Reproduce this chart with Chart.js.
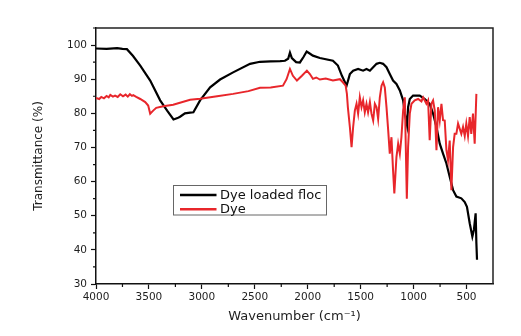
<!DOCTYPE html>
<html>
<head>
<meta charset="utf-8">
<title>FTIR spectra</title>
<script src="https://cdn.jsdelivr.net/npm/chart.js@4.4.0/dist/chart.umd.min.js"></script>
<style>
  html, body { margin: 0; padding: 0; background: #fff; }
</style>
</head>
<body>
<canvas id="ftirChart" width="521" height="336"></canvas>
<script>
// FTIR spectra: dye vs dye loaded floc

const flocLabel = 'Dye loaded floc';
const dyeLabel = 'Dye';

const flocWave = [4000, 3900, 3800, 3750, 3708, 3650, 3582, 3488, 3394, 3328, 3268, 3230, 3206, 3160, 3111, 3080,
  3017, 2922, 2828, 2705, 2545, 2451, 2350, 2260, 2215, 2185, 2168, 2150, 2110, 2074, 2040, 2010, 1985, 1951,
  1885, 1762, 1715, 1677, 1633, 1602, 1571, 1524, 1477, 1445, 1413, 1382, 1350, 1319, 1288, 1256, 1225, 1194,
  1162, 1130, 1099, 1083, 1062, 1052, 1036, 1005, 942, 894, 848, 816, 784, 753, 722, 690, 659, 627, 596, 549,
  517, 496, 470, 445, 430, 414, 407, 401];
const flocT = [99.0, 98.9, 99.1, 98.9, 98.8, 96.8, 94.0, 89.6, 83.8, 80.8, 78.2, 78.6, 79.0, 80.0, 80.2, 80.3,
  83.8, 87.6, 89.9, 92.0, 94.5, 95.1, 95.2, 95.3, 95.4, 96.0, 97.8, 96.2, 95.0, 94.9, 96.5, 98.1, 97.6, 96.9,
  96.2, 95.4, 94.0, 91.0, 88.1, 91.5, 92.5, 93.0, 92.5, 93.0, 92.5, 93.5, 94.5, 94.8, 94.5, 93.5, 91.5, 89.6,
  88.6, 86.7, 83.8, 80.0, 76.5, 81.8, 84.2, 85.2, 85.2, 84.2, 82.8, 79.9, 76.0, 71.1, 68.2, 65.3, 61.4, 57.5, 55.6, 55.1,
  54.0, 52.6, 47.8, 43.9, 45.9, 50.7, 42.0, 37.1];

const dyeWave = [4000, 3970, 3950, 3925, 3900, 3880, 3865, 3840, 3820, 3795, 3771, 3745, 3720, 3700, 3680, 3660,
  3648, 3620, 3582, 3535, 3507, 3488, 3460, 3431, 3365,
  3271, 3111, 3017, 2856, 2705, 2560, 2451, 2350, 2234, 2200, 2168, 2140, 2102, 2055, 2008, 1980, 1951, 1920, 1885,
  1830, 1762, 1696, 1668, 1642, 1630, 1621, 1602, 1586, 1571, 1555, 1539, 1524, 1508, 1492, 1477, 1461, 1445, 1430,
  1413, 1398, 1382, 1366, 1350, 1335, 1319, 1303, 1288, 1272, 1256, 1240, 1225, 1209, 1194, 1182, 1162, 1146,
  1130, 1115, 1099, 1083, 1064, 1052, 1036, 1020, 989, 957, 926, 910, 879, 863, 848, 832, 816, 800, 784, 769,
  753, 737, 722, 706, 690, 675, 659, 643, 627, 612, 596, 580, 549, 533, 517, 502, 486, 470, 455, 439, 423, 407];
const dyeT = [84.5, 84.2, 84.8, 84.4, 85.1, 84.7, 85.4, 84.9, 85.2, 84.8, 85.6, 85.0, 85.5, 84.9, 85.6, 85.1,
  85.3, 84.8, 84.2, 83.3, 82.3, 79.9, 80.8, 81.6, 82.1,
  82.5, 84.0, 84.3, 85.0, 85.7, 86.5, 87.5, 87.6, 88.1, 90.0, 93.0, 91.0, 89.6, 91.0, 92.5, 91.5, 90.1, 90.5, 89.9,
  90.2, 89.6, 90.0, 89.1, 88.1, 85.7, 81.8, 76.0, 70.1, 76.0, 80.8, 82.8, 79.9, 84.7, 81.8, 83.8, 80.3, 82.8, 80.3,
  83.3, 79.9, 77.9, 82.8, 81.8, 78.4, 84.7, 88.1, 89.1, 87.6, 81.8, 75.0, 68.2, 73.0, 63.3, 56.5, 67.2, 71.1,
  68.2, 73.0, 80.8, 84.7, 55.0, 70.1, 79.9, 82.8, 83.8, 84.2, 83.5, 84.7, 82.8, 83.8, 72.1, 82.8, 83.8, 80.8, 69.2, 81.8,
  77.9, 82.8, 78.0, 77.9, 69.2, 66.3, 72.0, 57.5, 70.1, 74.0, 74.0, 77.0, 74.0, 76.0, 73.4, 77.0, 73.4, 78.9, 74.0, 79.9, 71.1, 85.7];

const xTicks = [4000, 3500, 3000, 2500, 2000, 1500, 1000, 500];
const yTicks = [30, 40, 50, 60, 70, 80, 90, 100];

const tickFont = { family: 'DejaVu Sans', size: 10.5 };
const inkColor = '#1e1e1e';

function toPoints(xs, ys) {
  return xs.map((x, i) => ({ x: x, y: ys[i] }));
}

// minor ticks halfway between the labelled ones, plus the top/right frame
const framePlugin = {
  id: 'frame',
  afterDraw(chart) {
    const { ctx, chartArea, scales } = chart;
    ctx.save();
    ctx.strokeStyle = '#222';
    ctx.lineWidth = 1.5;
    ctx.beginPath();
    ctx.moveTo(chartArea.left, chartArea.top);
    ctx.lineTo(chartArea.right, chartArea.top);
    ctx.lineTo(chartArea.right, chartArea.bottom);
    ctx.stroke();

    ctx.lineWidth = 1.2;
    ctx.strokeStyle = '#111';
    ctx.beginPath();
    xTicks.forEach(v => {
      const m = v - 250;
      if (m <= 250) return;
      const px = scales.x.getPixelForValue(m);
      ctx.moveTo(px, chartArea.bottom);
      ctx.lineTo(px, chartArea.bottom + 3);
    });
    yTicks.forEach(v => {
      const py = scales.y.getPixelForValue(v + 5);
      ctx.moveTo(chartArea.left, py);
      ctx.lineTo(chartArea.left - 3, py);
    });
    ctx.stroke();
    ctx.restore();
  }
};

// boxed legend inside the plot, like the original figure
const boxLegend = {
  id: 'boxLegend',
  afterDraw(chart) {
    const ctx = chart.ctx;
    const boxX = 173.5, boxY = 185.5, boxW = 153, boxH = 29.5;
    ctx.save();
    ctx.fillStyle = '#fff';
    ctx.fillRect(boxX, boxY, boxW, boxH);
    ctx.strokeStyle = '#666';
    ctx.lineWidth = 1;
    ctx.strokeRect(boxX, boxY, boxW, boxH);
    ctx.font = '13px "DejaVu Sans"';
    ctx.textBaseline = 'middle';
    chart.data.datasets.forEach((ds, i) => {
      const y = boxY + 9.5 + i * 14.3;
      ctx.strokeStyle = ds.borderColor;
      ctx.lineWidth = 2.5;
      ctx.beginPath();
      ctx.moveTo(180, y);
      ctx.lineTo(216.5, y);
      ctx.stroke();
      ctx.fillStyle = '#111';
      ctx.fillText(ds.label, 220, y + 0.5);
    });
    ctx.restore();
  }
};

new Chart(document.getElementById('ftirChart'), {
  type: 'line',
  data: {
    datasets: [{
      label: flocLabel,
      data: toPoints(flocWave, flocT),
      borderColor: '#000000',
      borderWidth: 2.2,
      pointRadius: 0,
      tension: 0,
      order: 1
    }, {
      label: dyeLabel,
      data: toPoints(dyeWave, dyeT),
      borderColor: '#e8262b',
      borderWidth: 2,
      pointRadius: 0,
      tension: 0,
      order: 0
    }]
  },
  options: {
    responsive: false,
    animation: false,
    layout: { padding: { left: 0, right: 28, top: 28, bottom: 0 } },
    plugins: {
      legend: { display: false },
      tooltip: { enabled: false }
    },
    scales: {
      x: {
        type: 'linear',
        reverse: true,
        min: 250,
        max: 4000,
        afterBuildTicks: s => { s.ticks = xTicks.map(v => ({ value: v })); },
        afterFit: s => { s.height = 52; },
        ticks: {
          font: tickFont,
          color: inkColor,
          padding: 2,
          maxRotation: 0,
          autoSkip: false,
          callback: v => String(v)
        },
        grid: { drawOnChartArea: false, drawTicks: true, tickLength: 5, tickColor: '#111', tickWidth: 1.2 },
        border: { display: true, color: '#111', width: 1.5 },
        title: {
          display: true,
          text: 'Wavenumber (cm⁻¹)',
          font: { family: 'DejaVu Sans', size: 13 },
          color: inkColor,
          padding: { top: 0, bottom: 11.5 }
        }
      },
      y: {
        min: 30,
        max: 105,
        afterBuildTicks: s => { s.ticks = yTicks.map(v => ({ value: v })); },
        afterFit: s => { s.width = 96; },
        ticks: {
          font: tickFont,
          color: inkColor,
          padding: 4,
          callback: v => String(v)
        },
        grid: { drawOnChartArea: false, drawTicks: true, tickLength: 5, tickColor: '#111', tickWidth: 1.2 },
        border: { display: true, color: '#111', width: 1.5 },
        title: {
          display: true,
          text: 'Transmittance (%)',
          font: { family: 'DejaVu Sans', size: 12 },
          color: inkColor,
          padding: { top: 32, bottom: 0 }
        }
      }
    }
  },
  plugins: [framePlugin, boxLegend]
});
</script>
</body>
</html>
